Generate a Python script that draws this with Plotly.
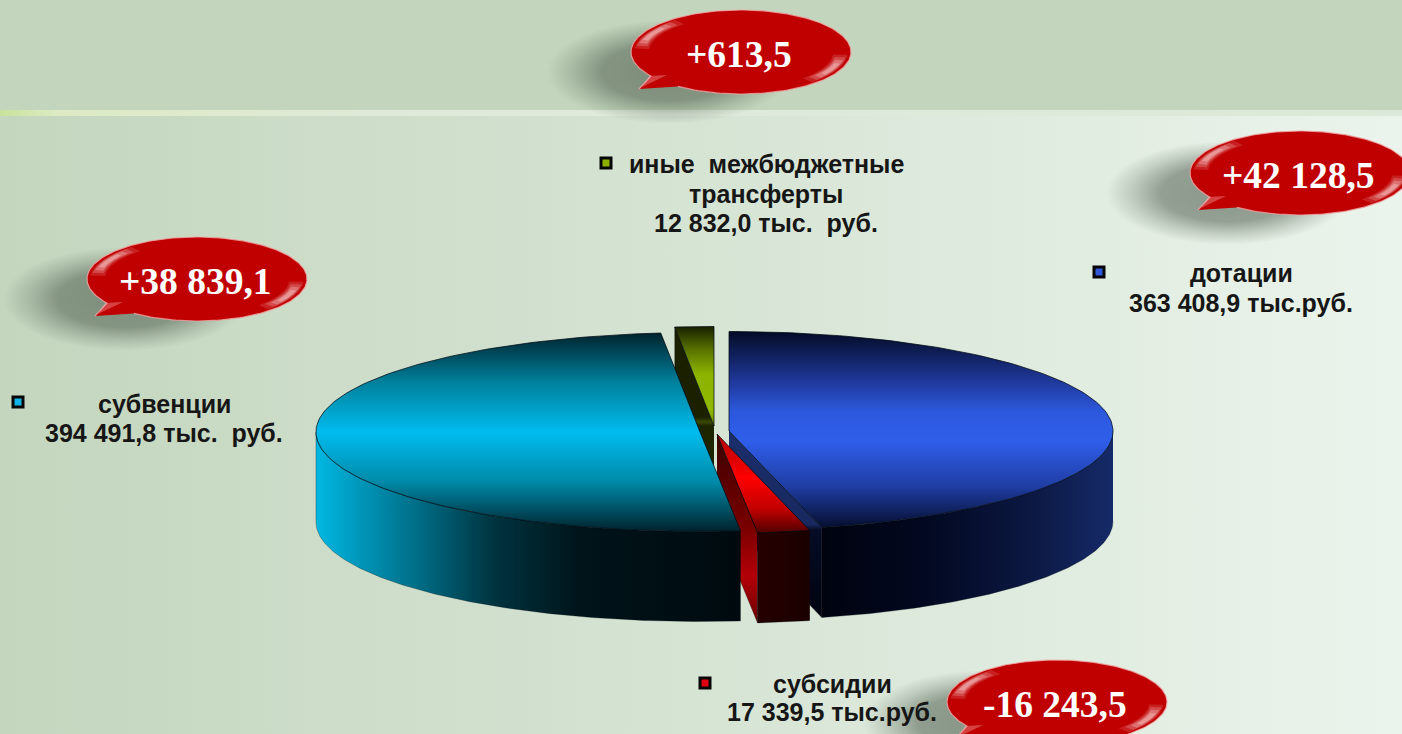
import numpy as np
import plotly.graph_objects as go

# ---------- data ----------
categories = ["дотации", "субсидии", "субвенции", "иные\u00a0 межбюджетные|трансферты"]
values = [363408.9, 17339.5, 394491.8, 12832.0]
unit_labels = ["тыс.руб.", "тыс.руб.", "тыс.\u00a0 руб.", "тыс.\u00a0 руб."]
change_labels = ["+42 128,5", "-16 243,5", "+38 839,1", "+613,5"]

W, H = 1402, 734
RX, RY, DEPTH = 384, 99.5, 90
# per-slice explosion centre (pie layout)
centres = [(729, 431), (717, 434), (700, 432), (714, 426)]
# label placement: text centre, first line y, line gap, marker
legend_pos = [(1241, 273, 30, 1099, 272), (832, 684, 28, 705, 683), (164, 404, 29, 18, 402), (766, 164, 29.5, 606, 163)]
balloon_pos = [(1300, 173), (1057, 702), (197, 279), (741, 52)]
marker_colors = ["#2f55d8", "#e00010", "#12b4e8", "#8db000"]

fig = go.Figure()


def poly(xs, ys, color=None, grad=None, line=None, lw=0):
    tr = dict(x=list(xs), y=list(ys), mode="lines", fill="toself", hoverinfo="skip",
              showlegend=False, line=dict(width=lw, color=line or "rgba(0,0,0,0)"))
    if grad:
        tr["fillgradient"] = grad
        tr["fillcolor"] = "rgba(0,0,0,0)"
    else:
        tr["fillcolor"] = color
    fig.add_trace(go.Scatter(**tr))


def vgrad(stops, a, b):
    return dict(type="vertical", start=a, stop=b, colorscale=stops)


def hgrad(stops, a, b):
    return dict(type="horizontal", start=a, stop=b, colorscale=stops)


# ---------- background ----------
poly([0, W, W, 0], [116, 116, H, H], grad=hgrad([[0, "#c4d6be"], [0.5, "#d6e4d4"], [1, "#ebf4ec"]], 0, W))
poly([0, W, W, 0], [0, 0, 110, 110], color="#c3d5bc")
poly([0, W, W, 0], [110, 110, 116, 116],
     grad=hgrad([[0, "#c9e29a"], [0.04, "#dcebc4"], [0.3, "#dfeadb"], [1, "#dce9d9"]], 0, W))

# ---------- slice angles from the values ----------
total = sum(values)
angles = np.cumsum([0] + [v / total * 360 for v in values])


def arc(i, a=None, b=None, n=160):
    th = np.radians(np.linspace(angles[i] if a is None else a, angles[i + 1] if b is None else b, n))
    cx, cy = centres[i]
    return cx + RX * np.sin(th), cy - RY * np.cos(th)


def top_face(i, stops):
    cx, cy = centres[i]
    x, y = arc(i)
    poly([cx, *x, cx], [cy, *y, cy], grad=vgrad(stops, cy - RY, cy + RY), line="rgba(0,10,20,0.75)", lw=1)


def wall(i, a, b, stops):
    x, y = arc(i, a, b)
    poly([*x, *x[::-1]], [*y, *(y[::-1] + DEPTH)], grad=hgrad(stops, float(x.min()), float(x.max())),
         line="rgba(0,10,20,0.5)", lw=0.6)


def cut(i, ang, stops):
    cx, cy = centres[i]
    x, y = arc(i, ang, ang, 2)
    ox, oy = x[0], y[0]
    poly([cx, ox, ox, cx], [cy, oy, oy + DEPTH, cy + DEPTH],
         grad=vgrad(stops, cy, oy + DEPTH), line="rgba(0,0,0,0.5)", lw=0.6)


I_BLUE, I_RED, I_CYAN, I_GREEN = 0, 1, 2, 3

# green (far slice)
cut(I_GREEN, angles[I_GREEN], [[0, "#1c2400"], [0.45, "#3c4a00"], [1, "#1a2000"]])
top_face(I_GREEN, [[0, "#182000"], [0.12, "#5a7400"], [0.24, "#8cb400"], [0.42, "#8fb800"], [0.5, "#6f8c00"], [1, "#1a2000"]])

# blue
wall(I_BLUE, 90, angles[I_BLUE + 1], [[0, "#00030f"], [0.35, "#020820"], [0.7, "#0b1740"], [1, "#152a68"]])
cut(I_BLUE, angles[I_BLUE + 1], [[0, "#1a2e6c"], [0.5, "#18295f"], [0.53, "#050c26"], [1, "#00030f"]])
top_face(I_BLUE, [[0, "#040b26"], [0.25, "#1f389a"], [0.4, "#2c58dc"], [0.55, "#2f5eea"], [0.78, "#1f3da3"], [1, "#040b26"]])

# red
cut(I_RED, angles[I_RED + 1], [[0, "#3a0000"], [0.5, "#7a0000"], [0.75, "#b40008"], [1, "#6a0000"]])
wall(I_RED, angles[I_RED], angles[I_RED + 1], [[0, "#260000"], [1, "#1a0000"]])
top_face(I_RED, [[0, "#400000"], [0.5, "#b00000"], [0.72, "#ff0000"], [0.88, "#c00000"], [1, "#4c0000"]])

# cyan
wall(I_CYAN, angles[I_CYAN], 270,
     [[0, "#00b8e2"], [0.1, "#0097bb"], [0.25, "#006a82"], [0.42, "#00333f"], [0.62, "#00141a"], [1, "#000a0e"]])
top_face(I_CYAN, [[0, "#00222c"], [0.25, "#00809c"], [0.5, "#00bcee"], [0.75, "#008aa8"], [1, "#00222c"]])


# ---------- legend labels ----------
def fmt(v):
    whole, frac = f"{v:,.1f}".split(".")
    return whole.replace(",", " ") + "," + frac


for i, (tx, ty, gap, mx, my) in enumerate(legend_pos):
    fig.add_trace(go.Scatter(x=[mx], y=[my], mode="markers", hoverinfo="skip", showlegend=False,
                             marker=dict(symbol="square", size=10, color=marker_colors[i],
                                         line=dict(color="#060606", width=3))))
    lines = categories[i].split("|") + [f"{fmt(values[i])} {unit_labels[i]}"]
    for k, text in enumerate(lines):
        fig.add_annotation(x=tx, y=ty + k * gap, xref="x", yref="y", text=text, showarrow=False, align="center",
                           font=dict(family="Liberation Sans", size=25, color="#161616", weight="bold"))


# ---------- callouts ----------
def ellipse(cx, cy, rx, ry, a=0, b=360, n=120):
    t = np.radians(np.linspace(a, b, n))
    return cx + rx * np.cos(t), cy - ry * np.sin(t)


def shadow(cx, cy):
    x, y = ellipse(cx - 72, cy + 20, 122, 52)
    poly(x, y, grad=dict(type="radial", colorscale=[[0, "rgba(80,95,80,0.62)"], [0.55, "rgba(80,95,80,0.55)"],
                                                     [0.8, "rgba(80,95,80,0.22)"], [1, "rgba(80,95,80,0)"]]))


def glint(cx, cy, a, b):
    for trim, r1, r2, alpha in [(0, 0.97, 0.84, 0.14), (4, 0.96, 0.86, 0.2), (8, 0.95, 0.875, 0.25),
                                (13, 0.94, 0.89, 0.3)]:
        ox, oy = ellipse(cx, cy, 110 * r1, 42 * r1, a + trim, b - trim, 40)
        ix, iy = ellipse(cx, cy, 110 * r2, 42 * r2, a + trim, b - trim, 40)
        poly([*ox, *ix[::-1]], [*oy, *iy[::-1]], color=f"rgba(255,235,235,{alpha})")


def balloon(cx, cy, label):
    ex, ey = ellipse(cx, cy, 110, 42, -125, 215, 200)
    tail_x, tail_y = cx - 102, cy + 37
    poly([*ex, tail_x], [*ey, tail_y], color="#c00000", line="rgba(240,170,170,0.8)", lw=1.2)
    poly([tail_x + 3, cx - 92, cx - 74], [tail_y - 2, cy + 24, cy + 23], color="rgba(255,190,190,0.35)")
    glint(cx, cy, 128, 175)
    glint(cx, cy, -48, -4)
    fig.add_annotation(x=cx - 2, y=cy + 2, xref="x", yref="y", text=f"<b>{label}</b>", showarrow=False,
                       font=dict(family="Liberation Serif", size=37.5, color="#ffffff"))


for (bx, by) in balloon_pos:
    shadow(bx, by)
for (bx, by), lab in zip(balloon_pos, change_labels):
    balloon(bx, by, lab)

fig.update_layout(
    width=W, height=H, margin=dict(l=0, r=0, t=0, b=0), showlegend=False,
    paper_bgcolor="#d6e4d4", plot_bgcolor="rgba(0,0,0,0)",
    xaxis=dict(range=[0, W], visible=False, fixedrange=True),
    yaxis=dict(range=[H, 0], visible=False, fixedrange=True),
)
fig.write_html("out.html", config={"displayModeBar": False},
               post_script="document.body.style.margin='0';document.body.style.overflow='hidden';")
